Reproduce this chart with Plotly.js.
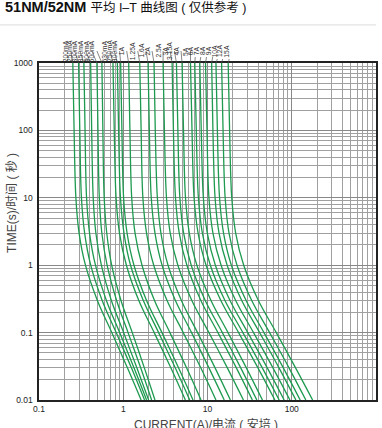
<!DOCTYPE html>
<html><head><meta charset="utf-8">
<script src="https://cdn.plot.ly/plotly-3.0.1.min.js"></script>
<style>html,body{margin:0;padding:0;background:#fff}#chart{width:382px;height:428px}</style>
</head><body><div id="chart"></div>
<script>
// Time axis points (s) at which each curve's current (A) was read
const times = [1000, 100, 10, 3, 1, 0.3, 0.1, 0.03, 0.01];

// Fuse rating labels
const ratings = ["200mA","250mA","300mA","350mA","400mA","500mA","630mA","750mA","800mA","1A",
  "1.25A","1.6A","2A","2.5A","3A","3.15A","4A","5A","6A","7A","8A","9A","10A","12A","15A"];

// Currents (A), one array per curve, aligned with `times`
const c200mA = [0.252, 0.261, 0.274, 0.299, 0.356, 0.493, 0.731, 1.12, 1.63];
const c250mA = [0.295, 0.305, 0.319, 0.348, 0.411, 0.562, 0.824, 1.25, 1.79];
const c300mA = [0.341, 0.352, 0.367, 0.398, 0.468, 0.631, 0.906, 1.34, 1.89];
const c350mA = [0.410, 0.422, 0.440, 0.473, 0.550, 0.723, 1.01, 1.45, 2.00];
const c400mA = [0.487, 0.501, 0.520, 0.557, 0.643, 0.834, 1.14, 1.61, 2.17];
const c500mA = [0.558, 0.573, 0.594, 0.637, 0.729, 0.940, 1.28, 1.78, 2.38];
const c630mA = [0.755, 0.782, 0.822, 0.902, 1.09, 1.53, 2.33, 3.67, 5.46];
const c750mA = [0.851, 0.881, 0.927, 1.02, 1.22, 1.73, 2.63, 4.14, 6.15];
const c800mA = [0.931, 0.964, 1.01, 1.11, 1.34, 1.89, 2.88, 4.53, 6.73];
const c1A    = [1.16, 1.20, 1.26, 1.38, 1.67, 2.35, 3.58, 5.64, 8.38];
const c1_25A = [1.57, 1.63, 1.71, 1.89, 2.30, 3.31, 5.15, 8.32, 12.6];
const c1_6A  = [1.97, 2.04, 2.15, 2.38, 2.89, 4.16, 6.47, 10.4, 15.8];
const c2A    = [2.32, 2.40, 2.54, 2.80, 3.40, 4.90, 7.62, 12.3, 18.7];
const c2_5A  = [2.97, 3.08, 3.26, 3.61, 4.45, 6.52, 10.4, 17.2, 26.7];
const c3A    = [3.80, 3.94, 4.17, 4.62, 5.69, 8.34, 13.3, 22.0, 34.1];
const c3_15A = [4.28, 4.45, 4.70, 5.21, 6.41, 9.40, 15.0, 24.8, 38.5];
const c4A    = [4.99, 5.19, 5.48, 6.08, 7.48, 11.0, 17.5, 28.9, 44.9];
const c5A    = [6.28, 6.55, 6.93, 7.73, 9.62, 14.4, 23.4, 39.7, 63.1];
const c6A    = [7.06, 7.36, 7.80, 8.69, 10.8, 16.1, 26.3, 44.7, 71.0];
const c7A    = [8.10, 8.43, 8.93, 9.95, 12.4, 18.5, 30.1, 51.2, 81.3];
const c8A    = [9.47, 9.86, 10.4, 11.6, 14.5, 21.6, 35.2, 59.8, 95.1];
const c9A    = [11.2, 11.6, 12.3, 13.7, 17.1, 25.5, 41.6, 70.6, 112];
const c10A   = [12.6, 13.1, 13.9, 15.5, 19.2, 28.7, 46.8, 79.4, 126];
const c12A   = [14.7, 15.3, 16.2, 18.0, 22.4, 33.5, 54.6, 92.7, 147];
const c15A   = [17.6, 18.3, 19.4, 21.6, 26.9, 40.2, 65.5, 111, 177];

const curves = [c200mA,c250mA,c300mA,c350mA,c400mA,c500mA,c630mA,c750mA,c800mA,c1A,
  c1_25A,c1_6A,c2A,c2_5A,c3A,c3_15A,c4A,c5A,c6A,c7A,c8A,c9A,c10A,c12A,c15A];

// Axis tick labels
const xTickVals = [0.1, 1, 10, 100, 1000];
const xTickText = ["0.1", "1", "10", "100", "1000"];
const yTickVals = [0.01, 0.1, 1, 10, 100, 1000];
const yTickText = ["0.01", "0.1", "1", "10", "100", "1000"];

// style: horizontal pixel shift of each rating label relative to its curve top
const labelShift = [-2,-4,-4,-5,-5,-5,-3,-3,-1,-2,-2,-2,-2,0,-2,-2,-1,0,1,2,2,2,4,3,3];

const FONT = "Liberation Sans, Arial, 'Noto Sans CJK SC', sans-serif";
const GREEN = "#1e9a50";

const traces = curves.map((c, i) => ({
  type: "scatter", mode: "lines", x: c, y: times, name: ratings[i],
  line: {color: GREEN, width: 1.3, shape: "spline", smoothing: 1},
  hoverinfo: "skip", cliponaxis: true
}));

const annotations = curves.map((c, i) => ({
  x: Math.log10(c[0]), y: Math.log10(times[0]), xref: "x", yref: "y",
  text: ratings[i], textangle: -90, showarrow: true, arrowhead: 0,
  arrowwidth: 0.7, arrowcolor: "#555", ax: labelShift[i], ay: -12,
  xanchor: "center", yanchor: "bottom", standoff: 0, startstandoff: 0,
  font: {family: FONT, size: 6.8, color: "#333"}
}));

annotations.push({
  xref: "paper", yref: "paper", x: -0.108, y: 1.165, xanchor: "left", yanchor: "middle",
  showarrow: false,
  text: "<b>51NM/52NM</b> <span style='font-size:12.5px'>平均 I–T 曲线图 ( 仅供参考 )</span>",
  font: {family: FONT, size: 14.5, color: "#111"}
});
annotations.push({
  xref: "paper", yref: "paper", x: -0.08, y: 0.585, xanchor: "center", yanchor: "middle",
  showarrow: false, textangle: -90,
  text: "TIME(s)/时间 ( 秒 )", font: {family: FONT, size: 12, color: "#444"}
});
annotations.push({
  xref: "paper", yref: "paper", x: 0.495, y: -0.072, xanchor: "center", yanchor: "middle",
  showarrow: false,
  text: "CURRENT(A)/电流 ( 安培 )", font: {family: FONT, size: 12, color: "#444"}
});

const layout = {
  width: 382, height: 428,
  margin: {l: 39, r: 6, t: 63, b: 28, pad: 0},
  paper_bgcolor: "#fff", plot_bgcolor: "#fff",
  showlegend: false,
  font: {family: FONT, size: 9, color: "#222"},
  xaxis: {
    type: "log", range: [-1, 3], tickmode: "array", tickvals: xTickVals, ticktext: xTickText,
    showgrid: true, gridcolor: "#888888", gridwidth: 1,
    minor: {dtick: "D1", showgrid: true, gridcolor: "#a0a0a0", gridwidth: 1, ticks: ""},
    showline: true, linecolor: "#222", linewidth: 1.6, mirror: true,
    ticks: "", zeroline: false, tickfont: {size: 8.5, color: "#222"}, fixedrange: true
  },
  yaxis: {
    type: "log", range: [-2, 3], tickmode: "array", tickvals: yTickVals, ticktext: yTickText,
    showgrid: true, gridcolor: "#888888", gridwidth: 1,
    minor: {dtick: "D1", showgrid: true, gridcolor: "#a0a0a0", gridwidth: 1, ticks: ""},
    showline: true, linecolor: "#222", linewidth: 1.6, mirror: true,
    ticks: "", zeroline: false, tickfont: {size: 8.5, color: "#222"}, ticklabelstandoff: 3, fixedrange: true
  },
  shapes: [{
    type: "line", xref: "paper", yref: "paper", x0: -0.116, x1: 1.0, y0: 1.113, y1: 1.113,
    line: {color: "#dcdcdc", width: 1}
  }],
  annotations: annotations
};

Plotly.newPlot("chart", traces, layout, {displayModeBar: false, staticPlot: true});
</script>
</body></html>
